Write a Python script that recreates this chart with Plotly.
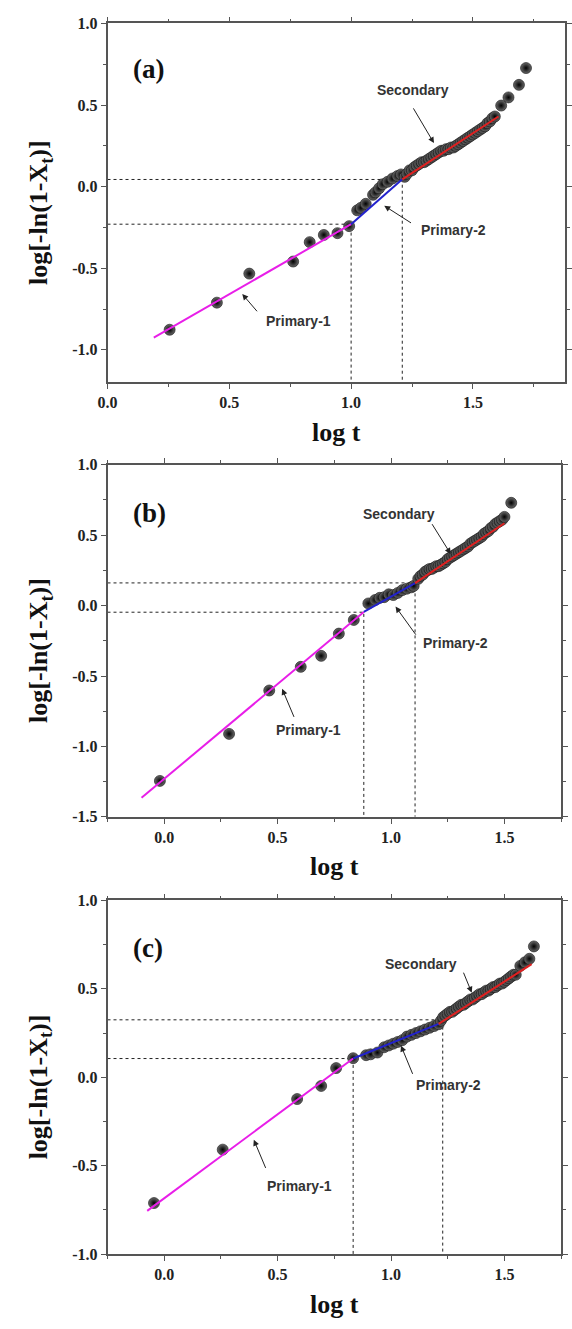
import plotly.graph_objects as go

# ---------------- data ----------------
# Panel (a)
a_p1_x = [0.255, 0.449, 0.582, 0.762, 0.830, 0.888, 0.944, 0.992]
a_p1_y = [-0.877, -0.711, -0.533, -0.459, -0.340, -0.296, -0.285, -0.242]
a_p2_x = [1.025, 1.04, 1.06, 1.09, 1.10, 1.115, 1.13, 1.15, 1.17, 1.19, 1.205]
a_p2_y = [-0.145, -0.13, -0.105, -0.05, -0.035, -0.01, 0.015, 0.03, 0.05, 0.065, 0.075]
a_s_x = [1.22, 1.23, 1.24, 1.25, 1.26, 1.27, 1.28, 1.29, 1.30, 1.31, 1.32, 1.33, 1.34,
         1.35, 1.36, 1.37, 1.38, 1.39, 1.40, 1.41, 1.42, 1.43, 1.44, 1.45, 1.46, 1.47,
         1.48, 1.49, 1.50, 1.51, 1.52, 1.53, 1.54, 1.55, 1.56, 1.57, 1.58, 1.59,
         1.616, 1.646, 1.689, 1.718]
a_s_y = [0.06, 0.08, 0.10, 0.10, 0.12, 0.13, 0.14, 0.15, 0.15, 0.16, 0.17, 0.18, 0.19,
         0.20, 0.21, 0.22, 0.22, 0.23, 0.23, 0.24, 0.24, 0.25, 0.26, 0.27, 0.28, 0.29,
         0.30, 0.31, 0.32, 0.33, 0.34, 0.35, 0.36, 0.37, 0.39, 0.40, 0.42, 0.43,
         0.497, 0.547, 0.624, 0.727]
a_fit1_x, a_fit1_y = [0.19, 1.0], [-0.925, -0.23]
a_fit2_x, a_fit2_y = [1.0, 1.21], [-0.23, 0.045]
a_fit3_x, a_fit3_y = [1.21, 1.605], [0.045, 0.43]
a_bounds = [(1.0, -0.23), (1.21, 0.044)]

# Panel (b)
b_p1_x = [-0.019, 0.286, 0.463, 0.602, 0.692, 0.770, 0.836]
b_p1_y = [-1.245, -0.911, -0.603, -0.435, -0.357, -0.199, -0.102]
b_p2_x = [0.90, 0.93, 0.95, 0.97, 0.99, 1.01, 1.03, 1.05, 1.07, 1.09, 1.10]
b_p2_y = [0.015, 0.04, 0.055, 0.06, 0.08, 0.075, 0.09, 0.11, 0.12, 0.13, 0.14]
b_s_x = [1.12, 1.13, 1.14, 1.15, 1.16, 1.17, 1.18, 1.19, 1.20, 1.21, 1.22, 1.23, 1.24,
         1.25, 1.26, 1.27, 1.28, 1.29, 1.30, 1.31, 1.32, 1.33, 1.34, 1.35, 1.36, 1.37,
         1.38, 1.39, 1.40, 1.41, 1.42, 1.43, 1.44, 1.45, 1.46, 1.47, 1.48, 1.49, 1.50,
         1.53]
b_s_y = [0.19, 0.21, 0.22, 0.24, 0.25, 0.26, 0.26, 0.27, 0.28, 0.28, 0.29, 0.30, 0.31,
         0.33, 0.34, 0.35, 0.36, 0.37, 0.38, 0.39, 0.40, 0.41, 0.42, 0.44, 0.45, 0.46,
         0.47, 0.48, 0.49, 0.51, 0.52, 0.53, 0.55, 0.56, 0.58, 0.59, 0.60, 0.61, 0.63,
         0.73]
b_fit1_x, b_fit1_y = [-0.10, 0.88], [-1.365, -0.045]
b_fit2_x, b_fit2_y = [0.88, 1.106], [-0.045, 0.16]
b_fit3_x, b_fit3_y = [1.106, 1.50], [0.16, 0.585]
b_bounds = [(0.88, -0.047), (1.106, 0.161)]

# Panel (c)
c_p1_x = [-0.045, 0.258, 0.586, 0.692, 0.758, 0.833]
c_p1_y = [-0.711, -0.409, -0.123, -0.049, 0.052, 0.108]
c_p2_x = [0.89, 0.91, 0.94, 0.97, 0.99, 1.01, 1.03, 1.05, 1.07, 1.09, 1.11, 1.13,
          1.15, 1.17, 1.19, 1.21]
c_p2_y = [0.125, 0.13, 0.14, 0.17, 0.18, 0.19, 0.20, 0.21, 0.23, 0.24, 0.25, 0.26,
          0.27, 0.28, 0.29, 0.30]
c_s_x = [1.22, 1.23, 1.24, 1.25, 1.26, 1.27, 1.28, 1.29, 1.30, 1.31, 1.32, 1.33, 1.34,
         1.35, 1.36, 1.37, 1.38, 1.39, 1.40, 1.41, 1.42, 1.43, 1.44, 1.45, 1.46, 1.47,
         1.48, 1.49, 1.50, 1.51, 1.52, 1.53, 1.54, 1.55, 1.57, 1.59, 1.61, 1.63]
c_s_y = [0.32, 0.34, 0.35, 0.36, 0.37, 0.37, 0.38, 0.39, 0.40, 0.41, 0.41, 0.42, 0.43,
         0.44, 0.44, 0.45, 0.46, 0.47, 0.47, 0.48, 0.49, 0.49, 0.50, 0.51, 0.51, 0.52,
         0.53, 0.53, 0.54, 0.55, 0.56, 0.57, 0.58, 0.58, 0.63, 0.65, 0.67, 0.74]
c_fit1_x, c_fit1_y = [-0.075, 0.833], [-0.755, 0.106]
c_fit2_x, c_fit2_y = [0.833, 1.21], [0.106, 0.302]
c_fit3_x, c_fit3_y = [1.21, 1.62], [0.302, 0.64]
c_bounds = [(0.833, 0.106), (1.228, 0.325)]

panel_labels = ["(a)", "(b)", "(c)"]
x_ticks = [0.0, 0.5, 1.0, 1.5]
x_tick_text = ["0.0", "0.5", "1.0", "1.5"]

# ---------------- layout geometry ----------------
W, H = 572, 1329
def px_x(p): return p / W
def px_y(p): return 1 - p / H

panels = [
    dict(pts=[(a_p1_x, a_p1_y), (a_p2_x, a_p2_y), (a_s_x, a_s_y)],
         fits=[(a_fit1_x, a_fit1_y), (a_fit2_x, a_fit2_y), (a_fit3_x, a_fit3_y)],
         bounds=a_bounds, xr=[0, 1.878], yr=[-1.2, 1.0],
         yticks=[-1.0, -0.5, 0.0, 0.5, 1.0],
         dom_x=[px_x(100.5), 1.0], dom_y=[px_y(379.3), px_y(15.7)],
         label=(0.167, 0.721),
         ann=[("Secondary", (1.252, 0.59), (1.252, 0.489), (1.340, 0.267)),
              ("Primary-2", (1.42, -0.263), (1.252, -0.228), (1.136, -0.117)),
              ("Primary-1", (0.782, -0.824), (0.619, -0.773), (0.553, -0.658))]),
    dict(pts=[(b_p1_x, b_p1_y), (b_p2_x, b_p2_y), (b_s_x, b_s_y)],
         fits=[(b_fit1_x, b_fit1_y), (b_fit2_x, b_fit2_y), (b_fit3_x, b_fit3_y)],
         bounds=b_bounds, xr=[-0.25, 1.75], yr=[-1.5, 1.0],
         yticks=[-1.5, -1.0, -0.5, 0.0, 0.5, 1.0],
         dom_x=[px_x(100.5), px_x(568)], dom_y=[px_y(819.3), px_y(462.7)],
         label=(-0.066, 0.659),
         ann=[("Secondary", (1.036, 0.647), (1.177, 0.589), (1.263, 0.367)),
              ("Primary-2", (1.286, -0.264), (1.114, -0.217), (1.020, -0.007)),
              ("Primary-1", (0.6375, -0.883), (0.575, -0.801), (0.520, -0.591))]),
    dict(pts=[(c_p1_x, c_p1_y), (c_p2_x, c_p2_y), (c_s_x, c_s_y)],
         fits=[(c_fit1_x, c_fit1_y), (c_fit2_x, c_fit2_y), (c_fit3_x, c_fit3_y)],
         bounds=c_bounds, xr=[-0.25, 1.75], yr=[-1.0, 1.0],
         yticks=[-1.0, -0.5, 0.0, 0.5, 1.0],
         dom_x=[px_x(100.5), px_x(568)], dom_y=[px_y(1262.3), px_y(904)],
         label=(-0.073, 0.731),
         ann=[("Secondary", (1.13, 0.643), (1.317, 0.60), (1.356, 0.478)),
              ("Primary-2", (1.255, -0.041), (1.098, 0.011), (1.044, 0.179)),
              ("Primary-1", (0.598, -0.615), (0.45, -0.521), (0.395, -0.353))]),
]

fit_colors = ["#e81ee8", "#2222cc", "#e02020"]
SERIF = "Liberation Serif"
SANS = "Liberation Sans"

fig = go.Figure()
annotations = []

for i, p in enumerate(panels):
    n = "" if i == 0 else str(i + 1)
    xa, ya = "x" + n, "y" + n
    # dotted guide lines
    for (bx, by) in p["bounds"]:
        fig.add_trace(go.Scatter(x=[p["xr"][0], bx, bx], y=[by, by, p["yr"][0]],
                                 mode="lines", xaxis=xa, yaxis=ya, showlegend=False,
                                 line=dict(color="#222", width=1, dash="dot"),
                                 hoverinfo="skip"))
    # data points
    for (xs, ys) in p["pts"]:
        fig.add_trace(go.Scatter(x=xs, y=ys, mode="markers", xaxis=xa, yaxis=ya,
                                 showlegend=False,
                                 marker=dict(size=11, color="#6a6a6a",
                                             gradient=dict(type="radial", color="#000000"),
                                             line=dict(width=0.6, color="#111"))))
    # fit lines
    for (fx, fy), col in zip(p["fits"], fit_colors):
        fig.add_trace(go.Scatter(x=fx, y=fy, mode="lines", xaxis=xa, yaxis=ya,
                                 showlegend=False, line=dict(color=col, width=2)))

    axis_common = dict(showline=True, linecolor="#555", linewidth=1.5, mirror="ticks",
                       ticks="outside", ticklen=5, tickwidth=1.2, tickcolor="#555",
                       showgrid=False, zeroline=False,
                       tickfont=dict(family=SERIF, size=16, color="#222", weight="bold"))
    fig.layout["xaxis" + n] = dict(axis_common, domain=p["dom_x"], range=p["xr"],
                                   anchor=ya, tickvals=x_ticks, ticktext=x_tick_text,
                                   minor=dict(ticks="outside", ticklen=3, tickcolor="#555",
                                              tick0=0, dtick=0.25))
    fig.layout["yaxis" + n] = dict(axis_common, domain=p["dom_y"], range=p["yr"],
                                   anchor=xa, tickvals=p["yticks"],
                                   ticktext=["%.1f" % v for v in p["yticks"]],
                                   minor=dict(ticks="outside", ticklen=3, tickcolor="#555",
                                              tick0=0, dtick=0.25))

    # panel label
    annotations.append(dict(x=p["label"][0], y=p["label"][1], xref=xa, yref=ya,
                            text=panel_labels[i], showarrow=False,
                            font=dict(family=SERIF, size=27, color="#111", weight="bold")))
    # text + arrows
    for (txt, (tx, ty), (ax_, ay_), (hx, hy)) in p["ann"]:
        annotations.append(dict(x=tx, y=ty, xref=xa, yref=ya, text=txt, showarrow=False,
                                font=dict(family=SANS, size=14, color="#333", weight="bold")))
        annotations.append(dict(x=hx, y=hy, ax=ax_, ay=ay_, xref=xa, yref=ya,
                                axref=xa, ayref=ya, text="", showarrow=True,
                                arrowhead=2, arrowsize=1.2, arrowwidth=1,
                                arrowcolor="#222", standoff=0, startstandoff=0))
    # axis titles
    dx0, dx1 = p["dom_x"]
    dy0, dy1 = p["dom_y"]
    annotations.append(dict(x=(dx0 + dx1) / 2, y=dy0, xref="paper", yref="paper",
                            text="log t", showarrow=False, yanchor="middle", yshift=-50,
                            font=dict(family=SERIF, size=26, color="#111", weight="bold")))
    annotations.append(dict(x=31 / W, y=(dy0 + dy1) / 2, xref="paper", yref="paper",
                            text="log[-ln(1-X<sub>t</sub>)]", showarrow=False,
                            textangle=-90, xanchor="center", yanchor="middle", yshift=-10,
                            font=dict(family=SERIF, size=26, color="#111", weight="bold")))

fig.update_layout(width=W, height=H, margin=dict(l=0, r=0, t=0, b=0),
                  paper_bgcolor="white", plot_bgcolor="white",
                  annotations=annotations, showlegend=False)

fig.write_html("out.html")
